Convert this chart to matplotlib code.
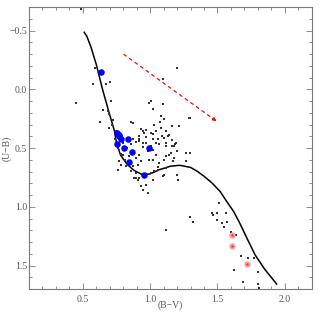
import matplotlib
matplotlib.use("Agg")
import matplotlib.pyplot as plt
from matplotlib.ticker import MultipleLocator, FuncFormatter

# Intrinsic two-colour sequence (B-V, U-B)
curve_bv = [0.51, 0.53, 0.56, 0.60, 0.646, 0.69, 0.735, 0.75, 0.78, 0.83, 0.88, 0.93, 0.96,
            1.00, 1.07, 1.15, 1.22, 1.30, 1.35, 1.40, 1.46, 1.52, 1.56, 1.62, 1.66, 1.72,
            1.78, 1.85, 1.94]
curve_ub = [-0.485, -0.45, -0.36, -0.21, 0.0, 0.18, 0.356, 0.46, 0.56, 0.64, 0.69, 0.72, 0.726,
            0.72, 0.684, 0.655, 0.647, 0.665, 0.698, 0.74, 0.798, 0.87, 0.94, 1.04, 1.126, 1.27,
            1.41, 1.53, 1.658]

# Field stars (small dots), (B-V, U-B) pairs
dots = [
    (0.488, -0.684), (0.446, 0.114), (0.587, -0.185), (0.574, -0.043), (0.705, -0.066),
    (0.673, -0.043), (0.71, 0.1), (0.648, 0.177), (0.685, 0.185), (0.693, 0.214),
    (0.624, 0.279), (0.722, 0.262), (0.693, 0.328), (0.718, 0.305), (1.199, -0.18),
    (0.858, 0.276), (0.989, 0.114), (1.007, 0.1), (1.019, 0.171), (1.093, 0.128),
    (1.081, 0.228), (1.073, 0.276), (1.031, 0.305), (0.97, 0.348), (0.944, 0.356),
    (1.007, 0.37), (1.044, 0.356), (1.081, 0.328), (1.118, 0.356), (1.13, 0.399),
    (1.105, 0.419), (1.056, 0.421), (1.019, 0.427), (0.97, 0.408), (0.92, 0.421),
    (0.896, 0.45), (0.944, 0.456), (1.068, 0.47), (1.118, 0.456), (1.007, 0.484),
    (1.29, 0.242), (1.216, 0.313), (1.142, 0.385), (1.192, 0.456), (1.093, -0.085),
    (1.105, 0.256), (1.296, 0.242), (1.162, 0.313), (1.137, 0.385), (1.187, 0.462),
    (1.266, 0.541), (1.296, 0.541), (1.203, 0.527), (1.142, 0.556), (1.18, 0.584),
    (1.159, 0.484), (0.97, 0.812), (0.981, 0.883), (0.933, 0.826), (0.944, 0.855),
    (0.92, 0.755), (0.896, 0.755), (1.019, 0.769), (1.031, 0.698), (1.167, 0.613),
    (1.266, 0.613), (1.105, 0.726), (1.093, 0.741), (1.196, 0.726), (1.209, 0.769),
    (1.118, 1.197), (1.296, 1.083), (1.315, 1.126), (1.512, 0.969), (1.458, 1.054),
    (1.47, 1.068), (1.493, 1.054), (1.5, 1.111), (1.562, 1.054), (1.537, 1.139),
    (1.55, 1.168), (1.574, 1.126), (1.599, 1.211), (1.636, 1.239), (1.673, 1.416),
    (1.73, 1.433), (1.772, 1.433), (1.624, 1.538), (1.804, 1.553), (1.69, 1.644),
    (1.804, 1.658), (1.809, 1.69), (0.87, 0.285), (0.933, 0.342), (0.957, 0.37),
    (0.92, 0.399), (0.747, 0.356), (0.772, 0.513), (0.796, 0.556), (0.816, 0.598),
    (0.846, 0.57), (0.883, 0.541), (0.896, 0.584), (0.92, 0.556), (0.933, 0.613),
    (0.907, 0.641), (0.87, 0.655), (0.858, 0.698), (0.896, 0.712), (1.019, 0.598),
    (1.044, 0.556), (1.068, 0.627), (1.105, 0.598), (1.118, 0.669), (1.056, 0.684),
    (1.007, 0.712), (1.155, 0.541), (1.18, 0.484), (1.118, 0.484), (0.772, 0.613),
    (0.784, 0.641), (0.821, 0.655), (0.883, 0.755), (0.907, 0.769), (0.92, 0.442),
    (0.97, 0.456), (1.044, 0.456), (0.858, 0.47), (0.981, 0.527), (1.019, 0.513),
    (0.76, 0.50), (0.78, 0.55), (0.74, 0.42), (0.80, 0.46), (0.83, 0.50),
    (0.86, 0.64), (0.99, 0.60), (1.06, 0.66), (1.16, 0.43), (0.95, 0.49),
    (1.02, 0.38), (1.12, 0.57), (0.76, 0.69), (0.87, 0.42), (1.09, 0.40),
]
dots_bv = [p[0] for p in dots]
dots_ub = [p[1] for p in dots]

# Cluster members (blue)
blue_bv = [0.636, 0.752, 0.772, 0.785, 0.834, 0.750, 0.809, 0.868, 0.994, 0.841, 0.957, 0.765]
blue_ub = [-0.143, 0.370, 0.393, 0.427, 0.427, 0.462, 0.504, 0.530, 0.504, 0.621, 0.726, 0.40]

# Red stars
red_bv = [1.607, 1.611, 1.722]
red_ub = [1.242, 1.331, 1.485]

# Reddening vector
arrow_start = (0.802, -0.299)
arrow_end = (1.492, 0.271)

plt.rcParams['font.family'] = ['Liberation Serif', 'DejaVu Serif']
fig = plt.figure(figsize=(3.19, 3.19), dpi=100)
ax = fig.add_axes([0.091, 0.094, 0.886, 0.884])

grey = '#7a7a7a'
txt = '#555555'
ax.plot(curve_bv, curve_ub, color='black', lw=1.1, zorder=2)
ax.scatter(dots_bv, dots_ub, s=1.1, color='#333333', marker='s', linewidths=0, zorder=3)
ax.scatter(blue_bv, blue_ub, s=22, color='#0000ff', linewidths=0, zorder=4)
ax.scatter(red_bv, red_ub, s=22, color='#ff8c8c', alpha=0.8, linewidths=0, zorder=4)
ax.scatter(red_bv, red_ub, s=8, color='#e03030', marker='*', linewidths=0, zorder=5)

ax.plot([arrow_start[0], arrow_end[0]], [arrow_start[1], arrow_end[1]],
        color='red', lw=0.9, ls=(0, (3, 2.5)), zorder=3)
ax.annotate('', xy=arrow_end,
            xytext=(arrow_end[0] - 0.04 * (arrow_end[0] - arrow_start[0]),
                    arrow_end[1] - 0.04 * (arrow_end[1] - arrow_start[1])),
            arrowprops=dict(arrowstyle='-|>', color='red', lw=0.8,
                            mutation_scale=5, shrinkA=0, shrinkB=0))

ax.set_xlim(0.1, 2.2)
ax.set_ylim(1.7, -0.7)
fmt = FuncFormatter(lambda v, p: ('%.1f' % v).replace('-', '\u2212'))
ax.xaxis.set_major_locator(MultipleLocator(0.5))
ax.xaxis.set_minor_locator(MultipleLocator(0.1))
ax.yaxis.set_major_locator(MultipleLocator(0.5))
ax.yaxis.set_minor_locator(MultipleLocator(0.1))
ax.xaxis.set_major_formatter(fmt)
ax.yaxis.set_major_formatter(fmt)

for s in ax.spines.values():
    s.set_color(grey)
    s.set_linewidth(0.8)
ax.tick_params(which='both', direction='in', top=True, right=True, color=grey,
               labelcolor=txt, labelsize=7, width=0.6)
ax.tick_params(axis='x', which='major', length=4, pad=4)
ax.tick_params(axis='y', which='major', length=4, pad=1.5)
ax.tick_params(which='minor', length=2)

fig.text(170 / 319, 1 - 305 / 319, '(B\u2212V)', fontsize=7, color=txt,
         ha='center', va='center')
fig.text(7 / 319, 1 - 148 / 319, '(U\u2212B)', fontsize=7, color=txt,
         ha='center', va='center', rotation=90)

fig.savefig('out.png', dpi=100)
